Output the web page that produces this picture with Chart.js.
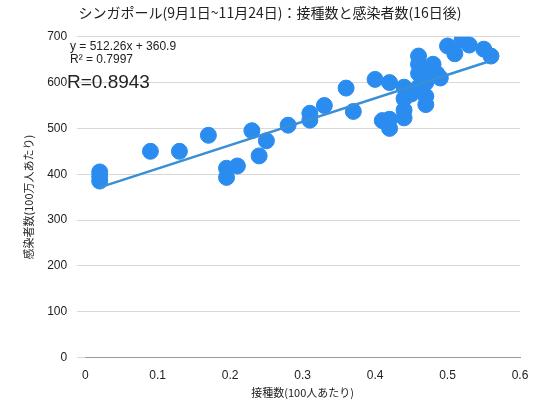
<!DOCTYPE html><html><head><meta charset="utf-8">
<script src="https://cdn.jsdelivr.net/npm/chart.js@4"></script>
<style>html,body{margin:0;background:#fff}#w{width:542px;height:401px}</style></head><body><div id="w"><canvas id="c"></canvas></div>
<script>
const xs=[0.02,0.02,0.02,0.09,0.13,0.17,0.195,0.195,0.21,0.23,0.24,0.25,0.28,0.31,0.31,0.33,0.36,0.37,0.40,0.41,0.42,0.42,0.42,0.44,0.44,0.44,0.44,0.45,0.46,0.46,0.46,0.47,0.47,0.47,0.48,0.48,0.485,0.49,0.50,0.51,0.52,0.53,0.55,0.56,0.47,0.46];
const ys=[405,395,385,450,450,485,413,393,418,495,440,473,507,533,518,550,588,537,607,517,600,500,520,590,565,540,523,575,658,640,620,600,570,552,640,625,620,610,680,663,693,682,673,658,610,590];
const slope=512.26, intercept=360.9;
const trendX=[0.02,0.56];
const pts=xs.map((x,i)=>({x,y:ys[i]}));
const trend=trendX.map(x=>({x,y:slope*x+intercept}));
const ann={id:'ann',afterDatasetsDraw(ch){const c=ch.ctx;c.save();c.fillStyle='#222';c.font='12px "Liberation Sans"';c.fillText('y = 512.26x + 360.9',70,50);c.fillText('R² = 0.7997',70,63);c.font='19px "Liberation Sans"';c.fillText('R=0.8943',67,88);c.restore();}};
new Chart(document.getElementById('c'),{type:'scatter',data:{datasets:[
{data:trend,type:'line',borderColor:'#3b8fd4',borderWidth:2.5,pointRadius:0,order:0},
{data:pts,backgroundColor:'#2b8cf0',borderColor:'#2b8cf0',pointRadius:8,order:1}]},
options:{responsive:true,maintainAspectRatio:false,animation:false,layout:{padding:{right:22,top:0,left:20,bottom:2}},
plugins:{legend:{display:false},tooltip:{enabled:false},title:{display:true,text:'シンガポール(9月1日~11月24日)：接種数と感染者数(16日後)',color:'#222',font:{size:14,family:'Noto Sans CJK JP',weight:'normal'},padding:{top:4,bottom:16}}},
scales:{x:{min:0,max:0.6,ticks:{stepSize:0.1,color:'#222',font:{size:12}},grid:{display:false},border:{color:'#999'},title:{display:true,text:'接種数(100人あたり)',color:'#222',font:{size:11,family:'Noto Sans CJK JP'},padding:0}},
y:{min:0,max:700,ticks:{stepSize:100,color:'#222',font:{size:12},padding:10},grid:{color:'#d8d8d8'},border:{display:false},title:{display:true,text:'感染者数(100万人あたり)',color:'#222',font:{size:11,family:'Noto Sans CJK JP'},padding:2}}}},plugins:[ann]});
</script></body></html>
